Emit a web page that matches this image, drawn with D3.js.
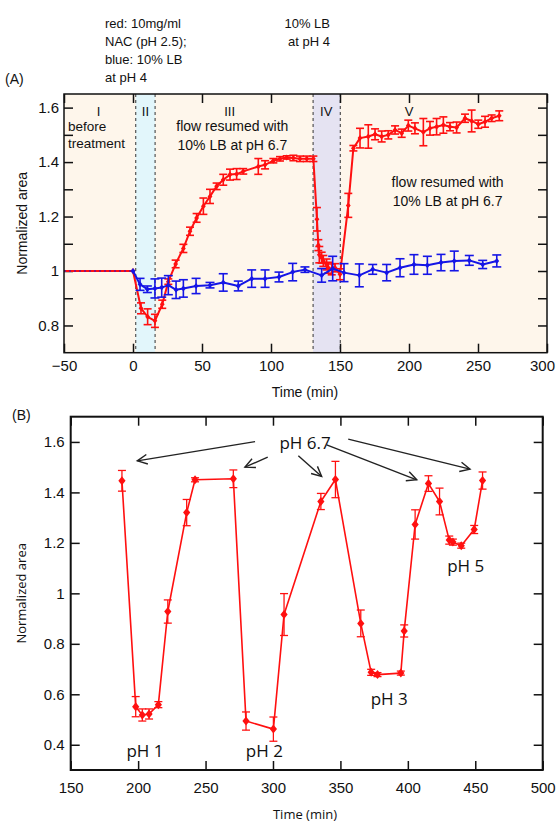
<!DOCTYPE html>
<html>
<head>
<meta charset="utf-8">
<script src="https://cdn.jsdelivr.net/npm/d3@7"></script>
<style>
  body { margin: 0; background: #fff; }
  svg { display: block; }
  text { font-family: "Liberation Sans", Arial, sans-serif; fill: #111; }
  .myriad { font-family: "Open Sans", "Noto Sans", sans-serif; }
</style>
</head>
<body>
<svg id="chart" width="556" height="824"></svg>
<script>
// ---- panel A data ----
const baseTimeA = [-50, 0];
const baseValA = [1, 1];

const redTimeA = [0, 5.8, 10.6, 15.9, 21.2, 25.6, 30.9, 36.5, 41.3, 46.1, 51.0, 55.8, 60.6, 65.4, 70.3, 75.1, 79.9,
  90.8, 95.7, 101.7, 106.5, 111.4, 116.2, 121.0, 125.9, 130.7, 133.3, 134.3, 135.0, 136.7, 137.9, 140.3, 141.5,
  144.0, 146.4, 150.0, 156.0, 159.7, 164.5, 170.5, 175.4, 180.2, 185.0, 189.9, 194.7, 199.5, 204.3, 210.4, 215.2,
  220.0, 224.9, 229.7, 234.5, 240.6, 245.4, 250.2, 255.1, 259.9, 265.4];
const redValA = [1.0, 0.863, 0.832, 0.817, 0.878, 0.961, 1.026, 1.083, 1.146, 1.195, 1.238, 1.274, 1.311, 1.335, 1.354, 1.356, 1.366,
  1.384, 1.39, 1.405, 1.412, 1.417, 1.415, 1.412, 1.412, 1.412, 1.19, 1.095, 1.06, 1.049, 1.037, 1.024, 1.012,
  1.006, 1.012, 0.988, 1.241, 1.451, 1.488, 1.494, 1.502, 1.494, 1.5, 1.518, 1.506, 1.534, 1.524, 1.51, 1.524,
  1.53, 1.536, 1.53, 1.527, 1.561, 1.551, 1.539, 1.548, 1.561, 1.57];
const redErrA = [0, 0.02, 0.029, 0.024, 0.015, 0.01, 0.014, 0.015, 0.015, 0.016, 0.03, 0.026, 0.012, 0.02, 0.02, 0.02, 0.01,
  0.029, 0.015, 0.008, 0.008, 0.006, 0.01, 0.01, 0.01, 0.01, 0.043, 0.02, 0.03, 0.02, 0.02, 0.02, 0.02,
  0.02, 0.015, 0.02, 0.044, 0.01, 0.036, 0.043, 0.02, 0.02, 0.015, 0.015, 0.015, 0.02, 0.02, 0.05, 0.025,
  0.03, 0.03, 0.015, 0.02, 0.015, 0.04, 0.015, 0.02, 0.012, 0.018];

const blueTimeA = [0, 5.1, 10.4, 15.9, 20.8, 25.6, 31.2, 36.5, 45.7, 55.8, 65.4, 76.3, 86.0, 95.7, 105.8, 115.7, 124.6,
  136.7, 144.7, 152.9, 164.0, 173.7, 183.8, 193.5, 203.6, 213.3, 223.2, 232.8, 243.7, 253.4, 263.6];
const blueValA = [1.0, 0.951, 0.933, 0.936, 0.939, 0.948, 0.931, 0.936, 0.945, 0.948, 0.958, 0.945, 0.972, 0.972, 0.978, 0.996, 1.005,
  0.984, 1.009, 0.994, 0.984, 1.006, 0.994, 1.012, 1.024, 1.021, 1.031, 1.037, 1.039, 1.024, 1.037];
const blueErrA = [0, 0.022, 0.012, 0.035, 0.035, 0.035, 0.032, 0.032, 0.028, 0.01, 0.032, 0.018, 0.032, 0.032, 0.018, 0.032, 0.01,
  0.025, 0.045, 0.033, 0.042, 0.018, 0.03, 0.033, 0.036, 0.033, 0.03, 0.036, 0.018, 0.015, 0.022];

// shaded phases [start, end, colour]
const phaseShades = [[2, 16, "#e2f6fb"], [130.5, 150.2, "#e5e3f2"]];
const phaseLabels = [["I", -25], ["II", 9], ["III", 70], ["IV", 140], ["V", 200]];

// ---- panel B data ----
const timeB = [188.0, 198.2, 203.1, 208.1, 215.0, 222.0, 236.0, 242.2, 270.6, 280.0, 300.3, 308.2, 335.5, 346.3,
  365.1, 372.8, 377.5, 394.8, 397.3, 405.4, 415.3, 423.5, 430.7, 433.4, 439.6, 449.2, 455.4];
const valB = [1.446, 0.551, 0.518, 0.522, 0.559, 0.928, 1.32, 1.45, 1.454, 0.494, 0.462, 0.916, 1.364, 1.451,
  0.881, 0.687, 0.678, 0.684, 0.851, 1.273, 1.435, 1.364, 1.211, 1.203, 1.189, 1.253, 1.447];
const errB = [0.041, 0.04, 0.024, 0.02, 0.012, 0.046, 0.052, 0.008, 0.035, 0.036, 0.048, 0.083, 0.032, 0.072,
  0.053, 0.012, 0.008, 0.008, 0.024, 0.058, 0.031, 0.053, 0.016, 0.012, 0.01, 0.016, 0.034];

// arrows from "pH 6.7": [t0, v0, t1, v1]
const arrowsB = [[286.7, 1.601, 199.4, 1.525], [296.1, 1.54, 279.2, 1.5], [318.8, 1.545, 336.1, 1.463],
  [339.8, 1.588, 406.6, 1.45], [355.8, 1.611, 446.1, 1.492]];
const phLabelsB = [["pH 6.7", 323.8, 1.596], ["pH 1", 205.1, 0.376], ["pH 2", 293.6, 0.376],
  ["pH 3", 386.2, 0.583], ["pH 5", 442.9, 1.107]];

const RED = "#ff1010";
const BLUE = "#1515e6";

const svg = d3.select("#chart");

function zip(ts, vs, es) {
  return ts.map((t, i) => ({ t, v: vs[i], e: es ? es[i] : 0 }));
}

function drawSeries(g, x, y, pts, color, lw, ms, cap) {
  const line = d3.line().x(d => x(d.t)).y(d => y(d.v));
  g.append("path").datum(pts)
    .attr("fill", "none").attr("stroke", color).attr("stroke-width", lw)
    .attr("stroke-linejoin", "round").attr("d", line);

  const eb = g.append("g").attr("stroke", color).attr("stroke-width", lw * 0.8);
  pts.filter(d => d.e > 0).forEach(d => {
    const cx = x(d.t), y0 = y(d.v - d.e), y1 = y(d.v + d.e);
    eb.append("line").attr("x1", cx).attr("x2", cx).attr("y1", y0).attr("y2", y1);
    eb.append("line").attr("x1", cx - cap).attr("x2", cx + cap).attr("y1", y0).attr("y2", y0);
    eb.append("line").attr("x1", cx - cap).attr("x2", cx + cap).attr("y1", y1).attr("y2", y1);
  });

  g.append("g").selectAll("path").data(pts).join("path")
    .attr("fill", color)
    .attr("d", d => {
      const cx = x(d.t), cy = y(d.v);
      return `M${cx},${cy - ms}L${cx + ms * 0.8},${cy}L${cx},${cy + ms}L${cx - ms * 0.8},${cy}Z`;
    });
}

// ================= PANEL A =================
const A = { left: 64, top: 94, right: 547, bottom: 352.7 };
const xA = d3.scaleLinear().domain([-50, 300]).range([A.left, A.right]);
const yA = d3.scaleLinear().domain([0.7, 1.65]).range([A.bottom, A.top]);
const gA = svg.append("g");

gA.append("rect").attr("x", A.left).attr("y", A.top)
  .attr("width", A.right - A.left).attr("height", A.bottom - A.top).attr("fill", "#fef6eb");

phaseShades.forEach(([s, e, c]) => {
  gA.append("rect").attr("x", xA(s)).attr("y", A.top)
    .attr("width", xA(e) - xA(s)).attr("height", A.bottom - A.top).attr("fill", c);
  [s, e].forEach(v => {
    gA.append("line").attr("x1", xA(v)).attr("x2", xA(v)).attr("y1", A.top).attr("y2", A.bottom)
      .attr("stroke", "#333").attr("stroke-width", 1).attr("stroke-dasharray", "3,3");
  });
});

const yTicksA = d3.range(8, 17).map(k => k / 10);
const fmtA = v => (Math.round(v * 10) % 2 === 0 ? String(+v.toFixed(1)) : "");
const xTicksA = d3.range(-50, 301, 50);

gA.append("g").attr("transform", `translate(${A.left},0)`)
  .call(d3.axisLeft(yA).tickValues(yTicksA).tickFormat(fmtA).tickSize(-9).tickPadding(5))
  .call(g => g.select(".domain").remove());
gA.append("g").attr("transform", `translate(${A.right},0)`)
  .call(d3.axisRight(yA).tickValues(yTicksA).tickFormat("").tickSize(-9))
  .call(g => g.select(".domain").remove());
gA.append("g").attr("transform", `translate(0,${A.bottom})`)
  .call(d3.axisBottom(xA).tickValues(xTicksA).tickSize(-9).tickPadding(8))
  .call(g => g.select(".domain").remove())
  .call(g => g.selectAll(".tick text").filter(d => d === 300).attr("dx", -5));
gA.append("g").attr("transform", `translate(0,${A.top})`)
  .call(d3.axisTop(xA).tickValues(xTicksA).tickFormat("").tickSize(-9))
  .call(g => g.select(".domain").remove());
gA.selectAll(".tick line").attr("stroke", "#111").attr("stroke-width", 1.5);
gA.selectAll(".tick text").attr("font-size", 15).attr("fill", "#111")
  .style("font-family", "Liberation Sans, Arial, sans-serif");

// baseline before treatment
const basePts = zip(baseTimeA, baseValA);
const baseLine = d3.line().x(d => xA(d.t)).y(d => yA(d.v));
gA.append("path").datum(basePts).attr("fill", "none").attr("stroke", RED).attr("stroke-width", 2).attr("d", baseLine);
gA.append("path").datum(basePts).attr("fill", "none").attr("stroke", BLUE).attr("stroke-width", 1.2)
  .attr("stroke-dasharray", "2,3").attr("d", baseLine);

drawSeries(gA, xA, yA, zip(redTimeA, redValA, redErrA), RED, 2, 3, 4);
drawSeries(gA, xA, yA, zip(blueTimeA, blueValA, blueErrA), BLUE, 2, 3, 4.5);

gA.append("rect").attr("x", A.left).attr("y", A.top)
  .attr("width", A.right - A.left).attr("height", A.bottom - A.top)
  .attr("fill", "none").attr("stroke", "#111").attr("stroke-width", 1.5);

phaseLabels.forEach(([lab, t]) => {
  gA.append("text").attr("x", xA(t)).attr("y", 116).attr("text-anchor", "middle")
    .attr("font-size", 13).text(lab);
});
const annA = [
  ["before", 68, 131, "start"], ["treatment", 68, 148, "start"],
  ["flow resumed with", xA(72), 131, "middle"], ["10% LB at pH 6.7", xA(72), 150, "middle"],
  ["flow resumed with", xA(228), 187, "middle"], ["10% LB at pH 6.7", xA(228), 206, "middle"]
];
annA.forEach(([s, x, y, anc]) => {
  gA.append("text").attr("x", x).attr("y", y).attr("text-anchor", anc)
    .attr("font-size", s === "before" || s === "treatment" ? 13.5 : 14).text(s);
});

const topNotes = [["red: 10mg/ml", 105, 28], ["NAC (pH 2.5);", 105, 46], ["blue: 10% LB", 105, 64], ["at pH 4", 105, 82]];
topNotes.forEach(([s, x, y]) => svg.append("text").attr("x", x).attr("y", y).attr("font-size", 13).text(s));
svg.append("text").attr("x", 330).attr("y", 28).attr("text-anchor", "end").attr("font-size", 13).text("10% LB");
svg.append("text").attr("x", 330).attr("y", 46).attr("text-anchor", "end").attr("font-size", 13).text("at pH 4");
svg.append("text").attr("x", 5).attr("y", 84).attr("font-size", 14).text("(A)");

svg.append("text").attr("transform", `translate(27,${(A.top + A.bottom) / 2}) rotate(-90)`)
  .attr("text-anchor", "middle").attr("font-size", 14).text("Normalized area");
svg.append("text").attr("x", 305).attr("y", 397).attr("text-anchor", "middle")
  .attr("font-size", 14).text("Time (min)");

// ================= PANEL B =================
const B = { left: 70.7, top: 416.7, right: 542.7, bottom: 770 };
const xB = d3.scaleLinear().domain([150, 500]).range([B.left, B.right]);
const yB = d3.scaleLinear().domain([0.3, 1.7]).range([B.bottom, B.top]);
const gB = svg.append("g");

const yTicksB = d3.range(2, 9).map(k => k / 5);
const xTicksB = d3.range(150, 501, 50);
const fmtB = v => String(+v.toFixed(1));

gB.append("g").attr("transform", `translate(${B.left},0)`)
  .call(d3.axisLeft(yB).tickValues(yTicksB).tickFormat(fmtB).tickSize(-9).tickPadding(6))
  .call(g => g.select(".domain").remove());
gB.append("g").attr("transform", `translate(${B.right},0)`)
  .call(d3.axisRight(yB).tickValues(yTicksB).tickFormat("").tickSize(-9))
  .call(g => g.select(".domain").remove());
gB.append("g").attr("transform", `translate(0,${B.bottom})`)
  .call(d3.axisBottom(xB).tickValues(xTicksB).tickSize(-9).tickPadding(12))
  .call(g => g.select(".domain").remove());
gB.append("g").attr("transform", `translate(0,${B.top})`)
  .call(d3.axisTop(xB).tickValues(xTicksB).tickFormat("").tickSize(-9))
  .call(g => g.select(".domain").remove());
gB.selectAll(".tick line").attr("stroke", "#111").attr("stroke-width", 1.5);
gB.selectAll(".tick text").attr("font-size", 15).attr("fill", "#111")
  .style("font-family", "Liberation Sans, Arial, sans-serif");

gB.append("rect").attr("x", B.left).attr("y", B.top)
  .attr("width", B.right - B.left).attr("height", B.bottom - B.top)
  .attr("fill", "none").attr("stroke", "#111").attr("stroke-width", 2);

drawSeries(gB, xB, yB, zip(timeB, valB, errB), RED, 1.6, 4.5, 4);

// arrows
const ag = gB.append("g").attr("stroke", "#222").attr("stroke-width", 1.4).attr("fill", "none");
arrowsB.forEach(([t0, v0, t1, v1]) => {
  const x0 = xB(t0), y0 = yB(v0), x1 = xB(t1), y1 = yB(v1);
  const ang = Math.atan2(y1 - y0, x1 - x0);
  const L = 11, W = 0.45;
  ag.append("line").attr("x1", x0).attr("y1", y0).attr("x2", x1).attr("y2", y1);
  ag.append("path").attr("d",
    `M${x1 - L * Math.cos(ang - W)},${y1 - L * Math.sin(ang - W)}L${x1},${y1}` +
    `L${x1 - L * Math.cos(ang + W)},${y1 - L * Math.sin(ang + W)}`);
});

phLabelsB.forEach(([s, t, v]) => {
  gB.append("text").attr("class", "myriad").attr("x", xB(t)).attr("y", yB(v))
    .attr("dy", "0.35em").attr("text-anchor", "middle").attr("font-size", 17).text(s);
});

svg.append("text").attr("x", 12).attr("y", 420).attr("font-size", 14).text("(B)");
svg.append("text").attr("class", "myriad")
  .attr("transform", `translate(26,${(B.top + B.bottom) / 2}) rotate(-90)`)
  .attr("text-anchor", "middle").attr("font-size", 13).text("Normalized area");
svg.append("text").attr("class", "myriad").attr("x", 305).attr("y", 819).attr("text-anchor", "middle")
  .attr("font-size", 13).text("Time (min)");
</script>
</body>
</html>
